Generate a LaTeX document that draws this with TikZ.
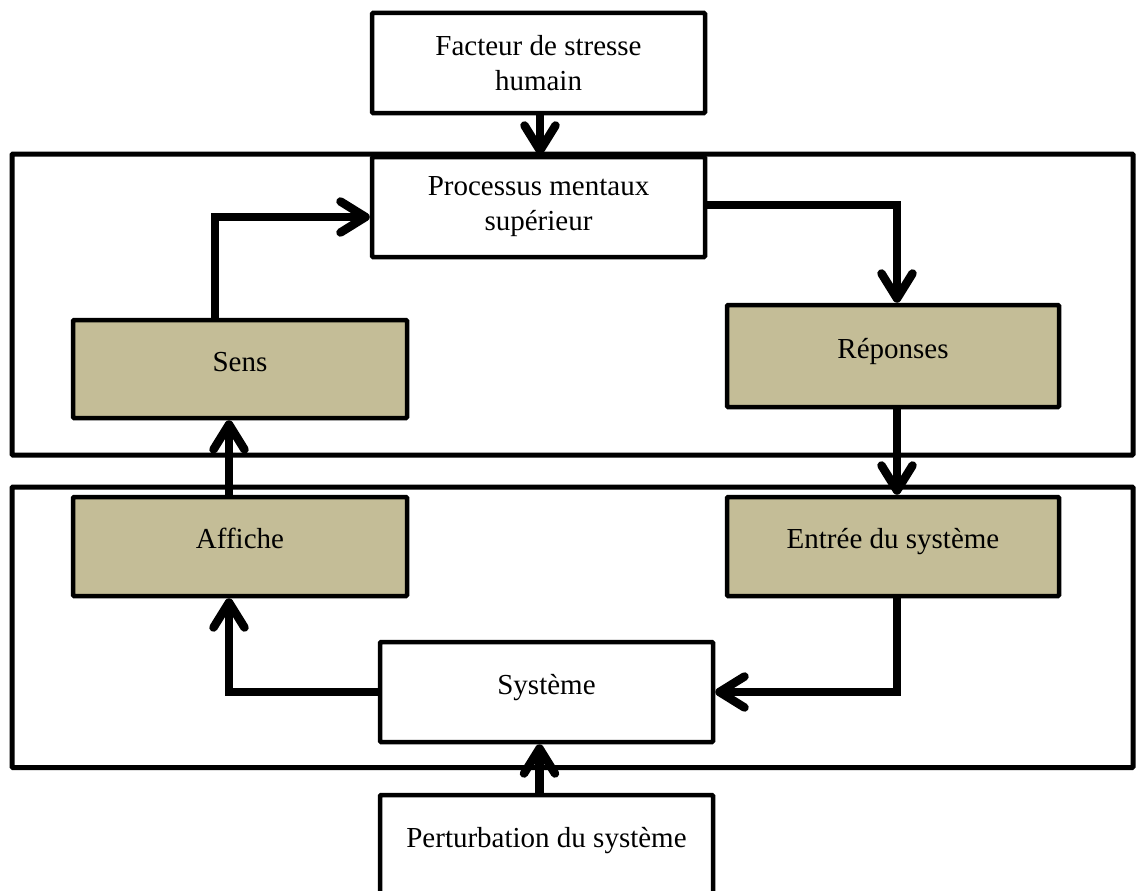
\documentclass[tikz,border=0pt]{standalone}
\usepackage{fontspec}
\setmainfont{Liberation Serif}
\usetikzlibrary{arrows.meta}
\definecolor{tanfill}{HTML}{C4BD97}
\tikzset{
  box/.style={draw, line width=4.5pt, minimum width=333pt, minimum height=100pt,
    align=center, fill=white, rounded corners=1pt, inner sep=0pt,
    font=\fontsize{29}{35}\selectfont},
  onel/.style={text height=24pt, text depth=20pt},
  tanbox/.style={box, fill=tanfill},
  container/.style={draw, line width=5pt, inner sep=0pt, rounded corners=1pt},
  conn/.style={line width=8.5pt, line join=miter,
    -{Straight Barb[length=25pt,width=31pt,round]}}
}
\begin{document}
\begin{tikzpicture}[x=1pt,y=-1pt]
\useasboundingbox (0,0) rectangle (1136,891);
\clip (0,0) rectangle (1136,891);
\fill[white] (0,0) rectangle (1136,891);
% containers
\node[container, minimum width=1121pt, minimum height=301pt] (upper) at (572.5,304.5) {};
\node[container, minimum width=1121pt, minimum height=280.5pt] (lower) at (572.5,627.25) {};
% boxes
\node[box] (fact) at (538.5,63) {Facteur de stresse\\humain};
\node[box] (proc) at (538.5,207) {Processus mentaux\\supérieur};
\node[tanbox, onel, minimum width=334pt, minimum height=98pt] (sens) at (240,369) {Sens};
\node[tanbox, onel, minimum width=332pt, minimum height=102pt] (rep) at (893,356) {Réponses};
\node[tanbox, onel, minimum width=334pt, minimum height=99pt] (aff) at (240,546.5) {Affiche};
\node[tanbox, onel, minimum width=332pt, minimum height=99pt] (ent) at (893,546.5) {Entrée du système};
\node[box, onel] (sys) at (546.5,692) {Système};
\node[box, onel] (pert) at (546.5,845) {Perturbation du système};
% connectors
\draw[conn] ([xshift=1.5pt]fact.south) -- ([xshift=1.5pt]proc.north);
\draw[conn] ([xshift=-25pt]sens.north) |- ([yshift=-10pt]proc.west);
\draw[conn] ([yshift=2pt]proc.east) -| ([xshift=4pt]rep.north);
\draw[conn] ([xshift=4pt]rep.south) -- ([xshift=4pt]ent.north);
\draw[conn] ([xshift=4pt]ent.south) |- (sys.east);
\draw[conn] (sys.west) -| ([xshift=-11pt]aff.south);
\draw[conn] ([xshift=-11pt]aff.north) -- ([xshift=-11pt]sens.south);
\draw[conn] ([xshift=-7pt]pert.north) -- ([xshift=-7pt]sys.south);
\end{tikzpicture}
\end{document}
